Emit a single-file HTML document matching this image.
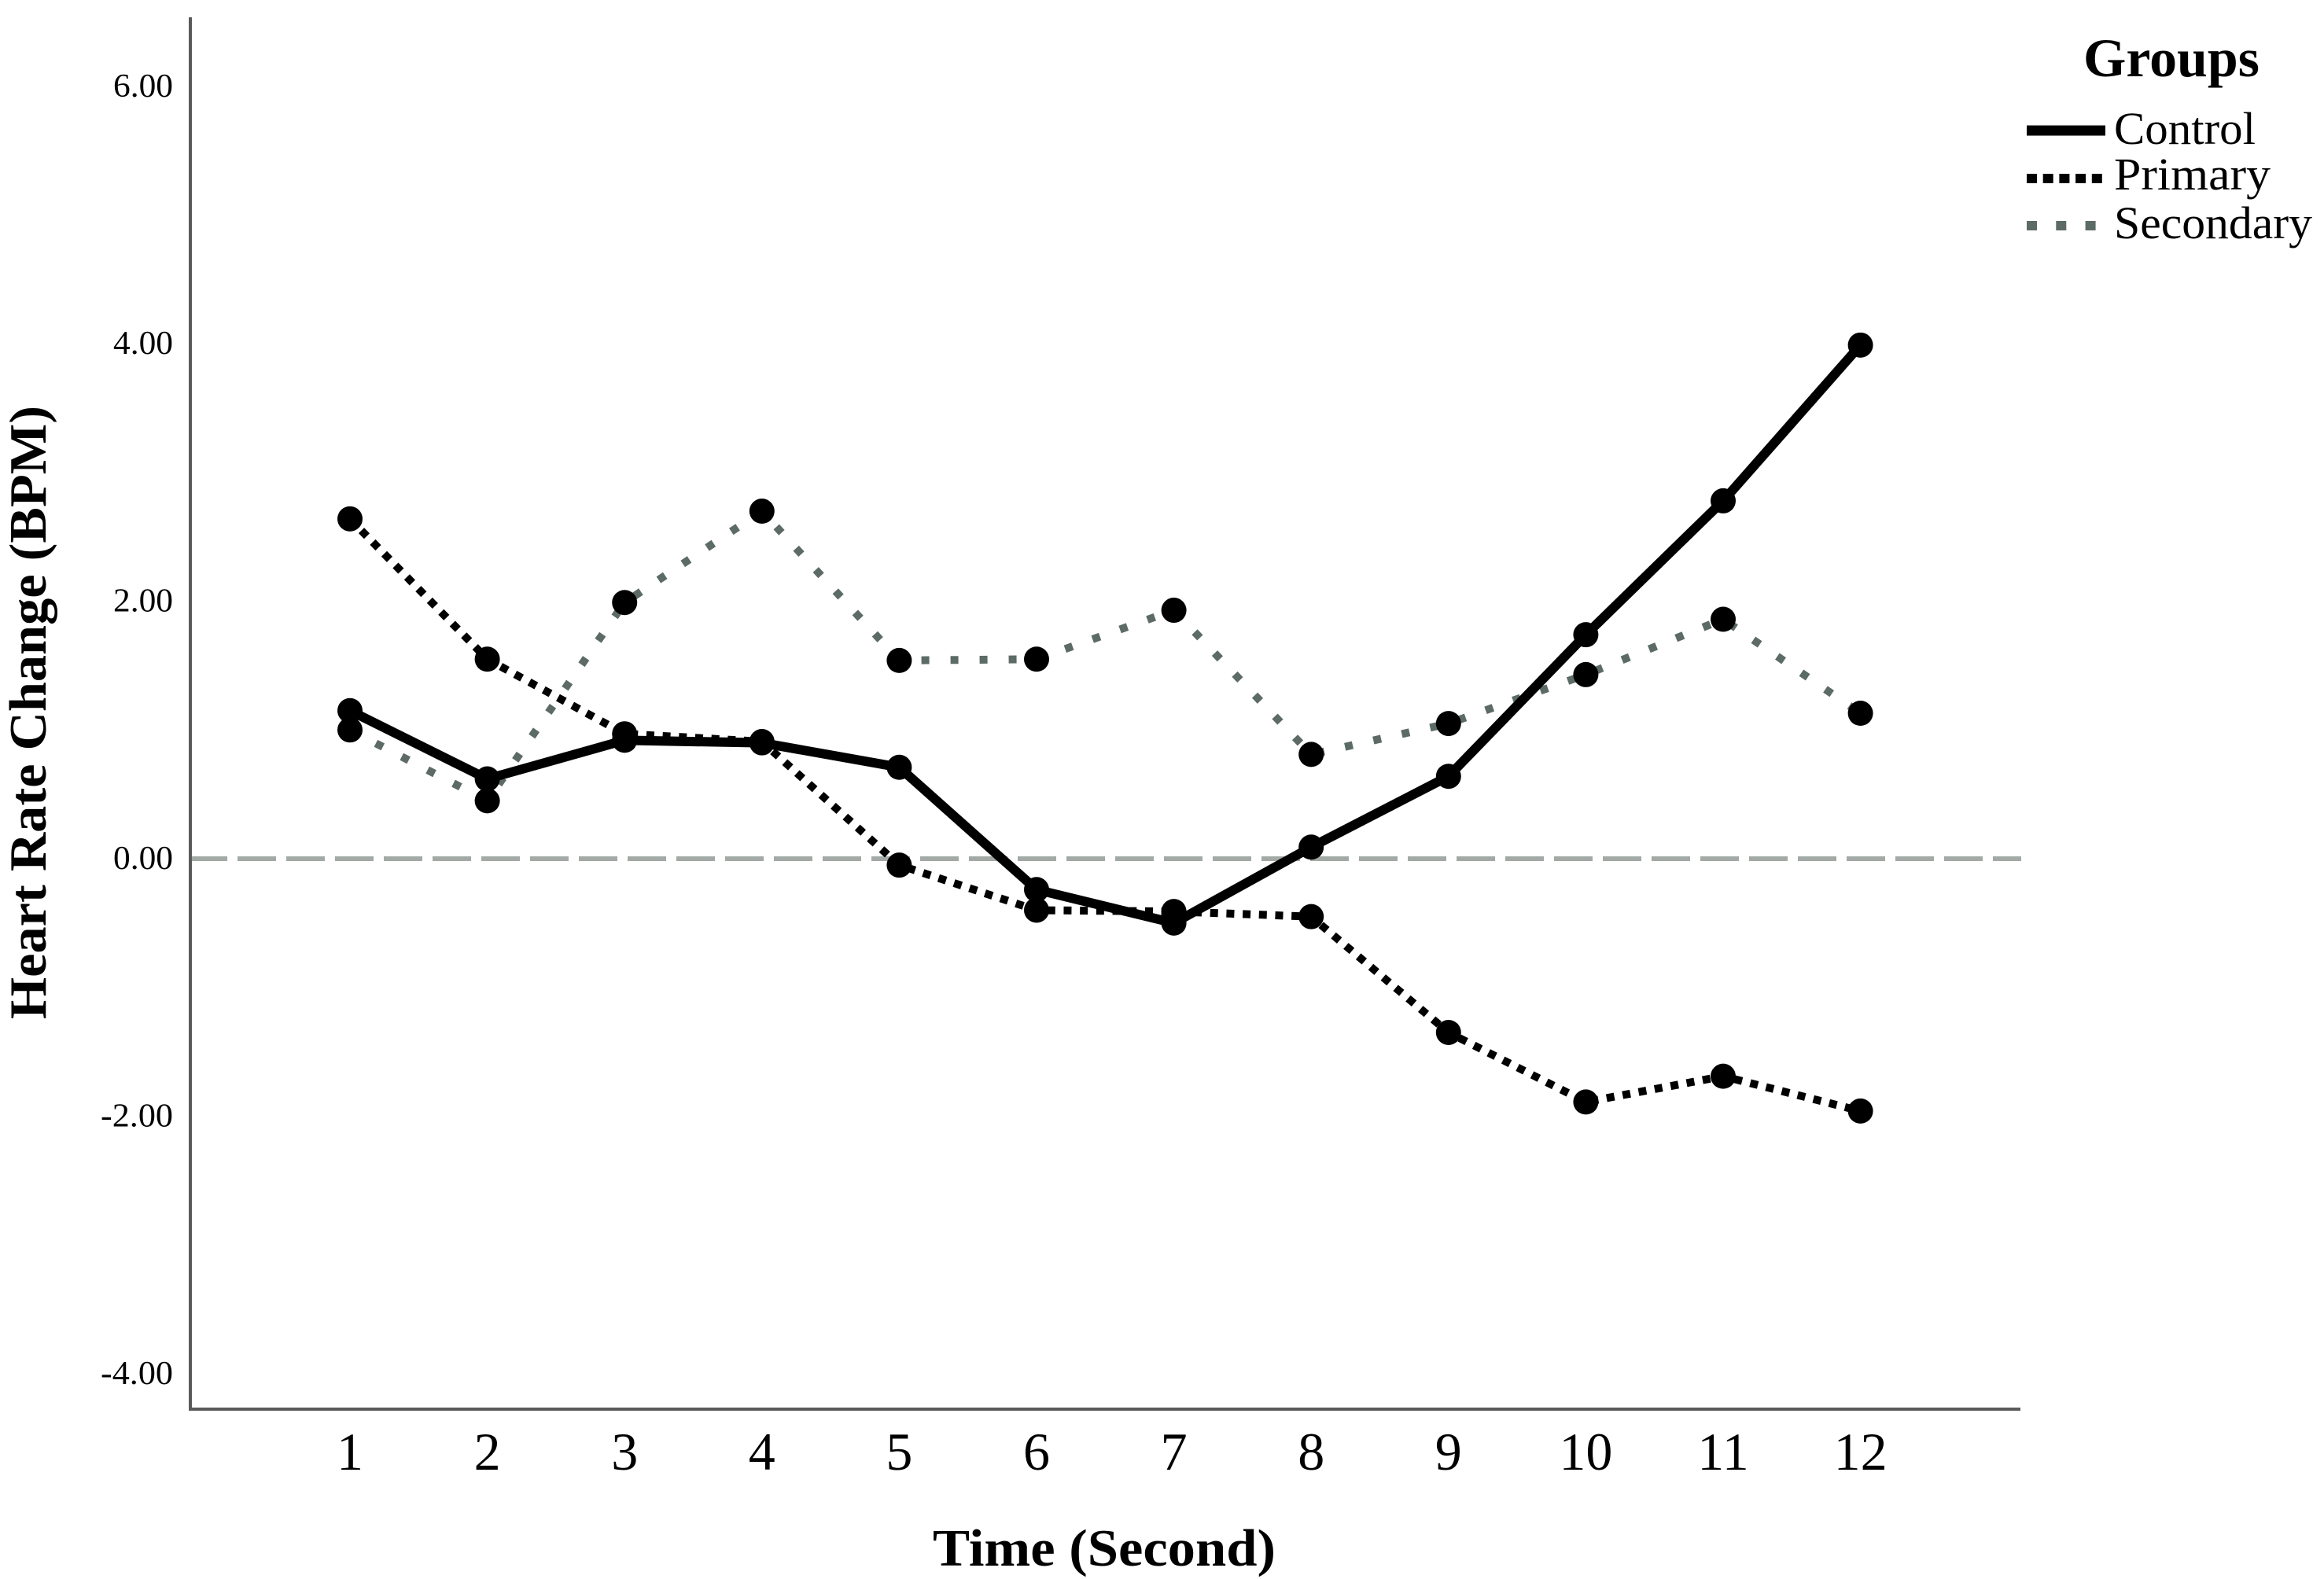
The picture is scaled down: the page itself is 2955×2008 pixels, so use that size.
<!DOCTYPE html>
<html lang="en">
<head>
<meta charset="utf-8">
<title>Heart Rate Change over Time</title>
<style>
html,body{margin:0;padding:0;background:#fff;}
svg{display:block;}
text{font-family:"Liberation Serif",serif;fill:#000;}
</style>
</head>
<body>
<svg id="chart" xmlns="http://www.w3.org/2000/svg" width="2955" height="2008" viewBox="0 0 2955 2008">
  <rect x="0" y="0" width="2955" height="2008" fill="#ffffff"/>
  <line x1="240" y1="1092" x2="2570" y2="1092" stroke="#a3aaa6" stroke-width="6" stroke-dasharray="49 13"/>
  <g id="series-layer"></g>
  <line x1="242" y1="22" x2="242" y2="1794" stroke="#5a5a5a" stroke-width="4"/>
  <line x1="240" y1="1792" x2="2569" y2="1792" stroke="#5a5a5a" stroke-width="4"/>
  <g id="y-ticks"></g>
  <g id="x-ticks"></g>
  <text transform="translate(58,906) rotate(-90)" text-anchor="middle" font-size="67" font-weight="700" textLength="780" lengthAdjust="spacingAndGlyphs">Heart Rate Change (BPM)</text>
  <text x="1404" y="1991" text-anchor="middle" font-size="67" font-weight="700" textLength="436" lengthAdjust="spacingAndGlyphs">Time (Second)</text>
  <g>
    <text x="2649" y="97" font-size="69" font-weight="700" textLength="224" lengthAdjust="spacingAndGlyphs">Groups</text>
    <line x1="2577" y1="166" x2="2677" y2="166" stroke="#000" stroke-width="13"/>
    <text x="2688" y="183" font-size="58" textLength="180" lengthAdjust="spacingAndGlyphs">Control</text>
    <line x1="2577" y1="227" x2="2674" y2="227" stroke="#000" stroke-width="12" stroke-dasharray="13 7.7"/>
    <text x="2688" y="241" font-size="58" textLength="199" lengthAdjust="spacingAndGlyphs">Primary</text>
    <line x1="2577" y1="287" x2="2665" y2="287" stroke="#5c6b66" stroke-width="12" stroke-dasharray="13 24.3"/>
    <text x="2688" y="303" font-size="58" textLength="252" lengthAdjust="spacingAndGlyphs">Secondary</text>
  </g>
</svg>
<script>
const categories = ['1','2','3','4','5','6','7','8','9','10','11','12'];
const yTickValues = [6, 4, 2, 0, -2, -4];
const controlValues = [1.15, 0.62, 0.92, 0.90, 0.71, -0.24, -0.50, 0.09, 0.64, 1.74, 2.78, 3.99];
const primaryValues = [2.64, 1.55, 0.97, 0.91, -0.05, -0.40, -0.41, -0.45, -1.35, -1.89, -1.69, -1.96];
const secondaryValues = [1.00, 0.45, 1.99, 2.70, 1.54, 1.55, 1.93, 0.81, 1.05, 1.43, 1.86, 1.13];

const SVG_NS = 'http://www.w3.org/2000/svg';
function xScale(i) { return 445 + i * 174.6; }
function yScale(v) { return 1092 - v * 163.7; }

function drawSeries(name, values, color, width, dash) {
  const layer = document.getElementById('series-layer');
  const g = document.createElementNS(SVG_NS, 'g');
  
  
  const line = document.createElementNS(SVG_NS, 'polyline');
  
  
  line.setAttribute('points', values.map(function (v, i) { return xScale(i) + ',' + yScale(v); }).join(' '));
  line.setAttribute('fill', 'none');
  line.setAttribute('stroke', color);
  line.setAttribute('stroke-width', width);
  line.setAttribute('stroke-linejoin', 'round');
  if (dash) line.setAttribute('stroke-dasharray', dash);
  g.appendChild(line);
  values.forEach(function (v, i) {
    const dot = document.createElementNS(SVG_NS, 'circle');
    
    
    dot.setAttribute('cx', xScale(i));
    dot.setAttribute('cy', yScale(v));
    dot.setAttribute('r', 16);
    dot.setAttribute('fill', '#000');
    g.appendChild(dot);
  });
  layer.appendChild(g);
}

drawSeries('secondary', secondaryValues, '#5c6b66', 10, '10 27');
drawSeries('primary', primaryValues, '#000000', 10, '10 10.7');
drawSeries('control', controlValues, '#000000', 12, null);

const yTicks = document.getElementById('y-ticks');
yTickValues.forEach(function (v) {
  const t = document.createElementNS(SVG_NS, 'text');
  
  
  t.setAttribute('x', 220);
  t.setAttribute('y', yScale(v) + 13);
  t.setAttribute('text-anchor', 'end');
  t.setAttribute('font-size', 42);
  t.setAttribute('textLength', v < 0 ? 92 : 76);
  t.setAttribute('lengthAdjust', 'spacingAndGlyphs');
  t.textContent = v.toFixed(2);
  yTicks.appendChild(t);
});

const xTicks = document.getElementById('x-ticks');
categories.forEach(function (c, i) {
  const t = document.createElementNS(SVG_NS, 'text');
  
  
  t.setAttribute('x', xScale(i));
  t.setAttribute('y', 1869);
  t.setAttribute('text-anchor', 'middle');
  t.setAttribute('font-size', 68);
  t.textContent = c;
  xTicks.appendChild(t);
});
</script>
</body>
</html>
